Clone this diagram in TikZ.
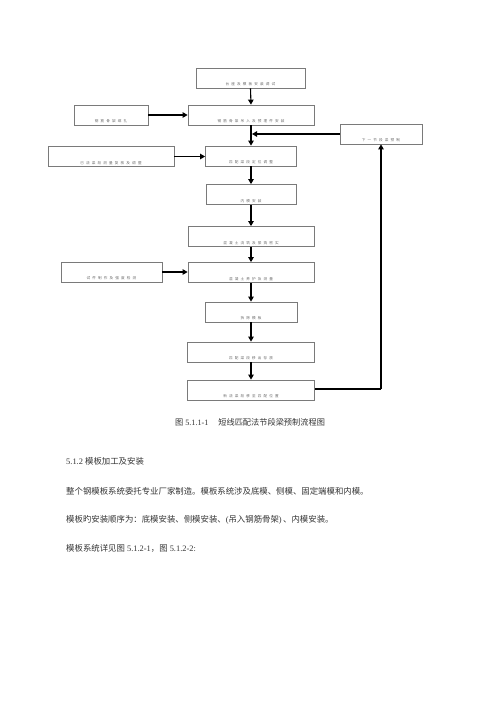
\documentclass[tikz,border=0pt]{standalone}
\usepackage{fontspec}
\setmainfont{Liberation Serif}
\newfontfamily\cjk{Noto Sans CJK SC}
\newfontfamily\boxcjk[LetterSpace=60]{Noto Sans CJK SC}
\usetikzlibrary{arrows.meta}
\definecolor{boxline}{HTML}{7A7A7A}
\definecolor{boxtext}{HTML}{6A6A6A}
\definecolor{bodytext}{HTML}{333333}
\tikzset{
  stepbox/.style={draw=boxline, line width=0.8pt, inner sep=0pt, minimum width=#1,
    text height=17.5pt, text depth=2.5pt, font=\boxcjk\fontsize{3.6}{4}\selectfont, text=boxtext},
  arr/.style={-{Triangle[length=5pt,width=5.5pt]}, line width=1.1pt, black},
  ln/.style={line width=1.1pt, black},
  body/.style={anchor=west, inner sep=0pt, text=bodytext, font=\fontsize{8.4}{9}\selectfont},
}
\begin{document}
\begin{tikzpicture}[x=1pt,y=-1pt]
\useasboundingbox (0,0) rectangle (500,707);
% main column
\node[stepbox=109pt] (b1) at (250.5,78) {台座及模板安装调试};
\node[stepbox=126pt] (b2) at (251,115) {钢筋骨架吊入及预埋件安装};
\node[stepbox=91pt]  (b3) at (251,156) {匹配梁段定位调整};
\node[stepbox=90pt]  (b4) at (251,194.5) {内模安装};
\node[stepbox=126pt] (b5) at (251,236.5) {混凝土浇筑及振捣密实};
\node[stepbox=126pt] (b6) at (251,272.5) {混凝土养护及测量};
\node[stepbox=92pt]  (b7) at (251,312) {拆除模板};
\node[stepbox=127pt] (b8) at (251,352) {匹配梁段移出存放};
\node[stepbox=127pt] (b9) at (251,390) {新浇梁段移至匹配位置};
% side boxes
\node[stepbox=74pt]  (l1) at (111,115) {钢筋骨架绑扎};
\node[stepbox=126pt] (l2) at (111,156.5) {已浇梁段测量复核及调整};
\node[stepbox=101pt] (l3) at (111.5,272) {试件制作及强度检测};
\node[stepbox=82pt]  (r1) at (381,134) {下一节段梁预制};
% connectors
\draw[arr] (b1.south) -- (b2.north);
\draw[arr] (b2.south) -- (b3.north);
\draw[arr] (b3.south) -- (b4.north);
\draw[arr] (b4.south) -- (b5.north);
\draw[arr] (b5.south) -- (b6.north);
\draw[arr] (b6.south) -- (b7.north);
\draw[arr] (b7.south) -- (b8.north);
\draw[arr] (b8.south) -- (b9.north);
\draw[arr] (l1.east) -- (b2.west |- l1.east);
\draw[arr] (l2.east) -- (b3.west |- l2.east);
\draw[arr] (l3.east) -- (b6.west |- l3.east);
\coordinate (j) at (252,134);
\draw[arr] (r1.west) -- (j);
\coordinate (c) at (381,389);
\draw[ln] (b9.east |- c) -- (c);
\draw[arr] (c) -- (r1.south);
% caption and body text
\node[inner sep=0pt, text=bodytext, font=\fontsize{8.2}{9}\selectfont] (cap) at (250,422)
  {{\cjk 图} 5.1.1-1\hspace{1.2em}{\cjk 短线匹配法节段梁预制流程图}};
\node[body] (t1) at (66,461) {5.1.2 {\cjk 模板加工及安装}};
\node[body] (t2) at (66,491) {\cjk 整个钢模板系统委托专业厂家制造。模板系统涉及底模、侧模、固定端模和内模。};
\node[body] (t3) at (66,520) {{\cjk 模板旳安装顺序为：底模安装、侧模安装、}({\cjk 吊入钢筋骨架})\,{\cjk 、内模安装。}};
\node[body] (t4) at (66,548) {{\cjk 模板系统详见图} 5.1.2-1{\cjk ，图} 5.1.2-2:};
\end{tikzpicture}
\end{document}
